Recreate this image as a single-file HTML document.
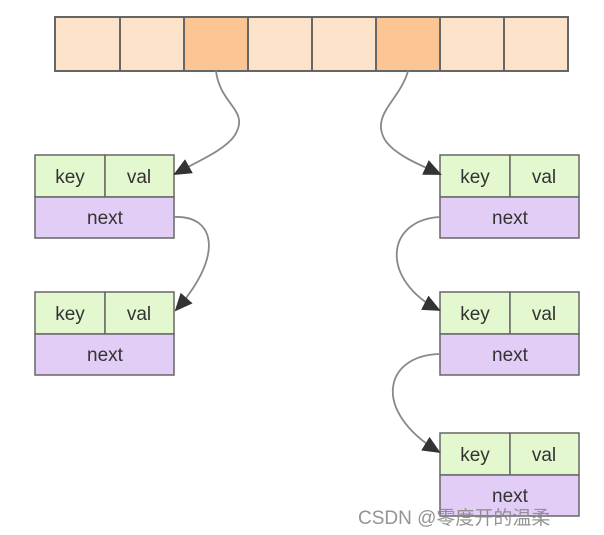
<!DOCTYPE html>
<html><head><meta charset="utf-8"><style>
body{margin:0;width:604px;height:535px;background:#fff;overflow:hidden;position:relative;font-family:"Liberation Sans","Noto Sans CJK SC",sans-serif}
svg{position:absolute;left:0;top:0}
</style></head><body>
<svg width="604" height="535" viewBox="0 0 604 535">
<defs><marker id="a" markerWidth="18" markerHeight="16" refX="16" refY="8" orient="auto" markerUnits="userSpaceOnUse"><path d="M0,0 L18,8 L0,16 z" fill="#333"/></marker>
<g id="n">
<rect x="0" y="0" width="70" height="42" fill="#e4f8cf"/>
<rect x="70" y="0" width="69" height="42" fill="#e4f8cf"/>
<rect x="0" y="42" width="139" height="41" fill="#e2cdf7"/>
<text x="35" y="28" stroke="none">key</text>
<text x="104" y="28" stroke="none">val</text>
<text x="70" y="69" stroke="none">next</text>
</g>
</defs>
<g stroke="#666" stroke-width="2">
<rect x="55" y="17" width="65" height="54" fill="#fde3c9"/>
<rect x="120" y="17" width="64" height="54" fill="#fde3c9"/>
<rect x="184" y="17" width="64" height="54" fill="#fbc594"/>
<rect x="248" y="17" width="64" height="54" fill="#fde3c9"/>
<rect x="312" y="17" width="64" height="54" fill="#fde3c9"/>
<rect x="376" y="17" width="64" height="54" fill="#fbc594"/>
<rect x="440" y="17" width="64" height="54" fill="#fde3c9"/>
<rect x="504" y="17" width="64" height="54" fill="#fde3c9"/>
</g>
<g stroke="#666" stroke-width="1.5" font-size="19" text-anchor="middle" fill="#333">
<use href="#n" x="35" y="155"/>
<use href="#n" x="35" y="292"/>
<use href="#n" x="440" y="155"/>
<use href="#n" x="440" y="292"/>
<use href="#n" x="440" y="433"/>
</g>
<g fill="none" stroke="#888" stroke-width="1.8" marker-end="url(#a)">
<path d="M216,71 C220,105 250,110 235,135 C225,150 200,160 175,174"/>
<path d="M408,71 C400,100 370,115 385,140 C395,155 420,165 440,174"/>
<path d="M174,217 C215,215 225,255 176,310"/>
<path d="M440,217 C385,220 380,280 439,310"/>
<path d="M440,354 C385,355 370,410 439,452"/>
</g>
<text x="358" y="524" font-size="19" fill="#888" fill-opacity="0.9">CSDN @零度开的温柔</text>
</svg>
</body></html>
